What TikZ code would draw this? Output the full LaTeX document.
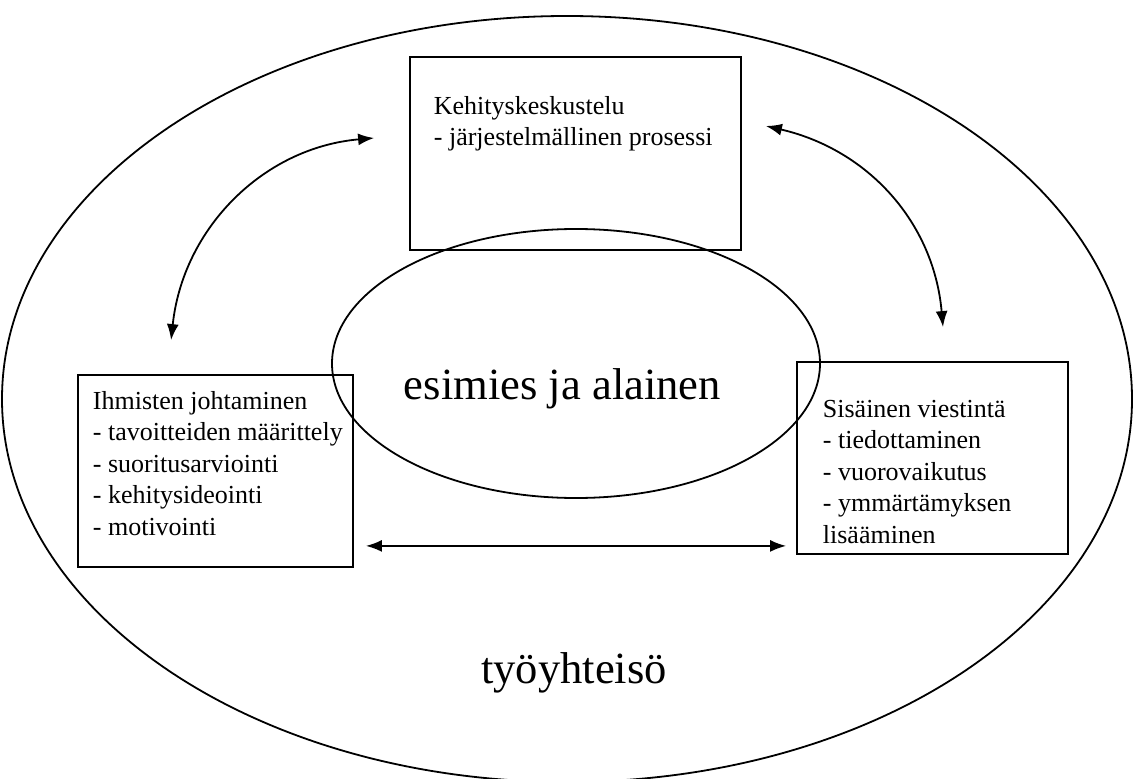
\documentclass[tikz,border=0pt]{standalone}
\usepackage{fontspec}
\setmainfont{Liberation Serif}
\usepackage{tikz}
\usetikzlibrary{arrows.meta, positioning, shapes.geometric}

\begin{document}
\begin{tikzpicture}[x=1pt, y=1pt, line width=0.9pt, >={Latex[length=8pt,width=6pt]}]
            \tikzstyle{laatikko}=[draw, rectangle, inner sep=0pt]
            \tikzstyle{teksti}=[anchor=base west, align=left, inner sep=0pt, font=\fontsize{13}{15.75}\selectfont]
            \tikzstyle{iso}=[anchor=base, inner sep=0pt, font=\fontsize{22.3}{26}\selectfont]

            \useasboundingbox (0, 0) rectangle (567, 389);

            % tyoyhteiso ja esimies/alainen
            \draw (283.5, 189.5) ellipse [x radius=282.5, y radius=191.5];
            \draw (288, 207.25) ellipse [x radius=122, y radius=67.25];

            \node[laatikko, minimum width=165.5pt, minimum height=96.5pt] (kehitys) at (287.75, 312.25) {};
            \node[laatikko, minimum width=137.5pt, minimum height=96pt] (johtaminen) at (107.75, 153.5) {};
            \node[laatikko, minimum width=135.5pt, minimum height=96pt] (viestinta) at (466.25, 160) {};

            % base = viimeisen rivin perusviiva
            \node[teksti] (t_kehitys) at (216.5, 316) {Kehityskeskustelu\\- järjestelmällinen prosessi};
            \node[teksti] (t_johtaminen) at (46, 121.5) {Ihmisten johtaminen\\- tavoitteiden määrittely\\- suoritusarviointi\\- kehitysideointi\\- motivointi};
            \node[teksti] (t_viestinta) at (411, 117.5) {Sisäinen viestintä\\- tiedottaminen\\- vuorovaikutus\\- ymmärtämyksen\\lisääminen};

            \node[iso] (esimies) at (281.25, 189.5) {esimies ja alainen};
            \node[iso] (tyoyhteiso) at (287, 47.5) {työyhteisö};

            \path[<->]
            ([shift={(-17.5,7.75)}]kehitys.west) edge [out=185, in=84] ([shift={(47,17)}]johtaminen.north west)
            ([shift={(12,13.75)}]kehitys.east) edge [out=-13, in=95] ([shift={(5.25,17)}]viestinta.north)
            ([shift={(6,11)}]johtaminen.south east) edge ([shift={(-5,4.5)}]viestinta.south west);

          \end{tikzpicture}
\end{document}
